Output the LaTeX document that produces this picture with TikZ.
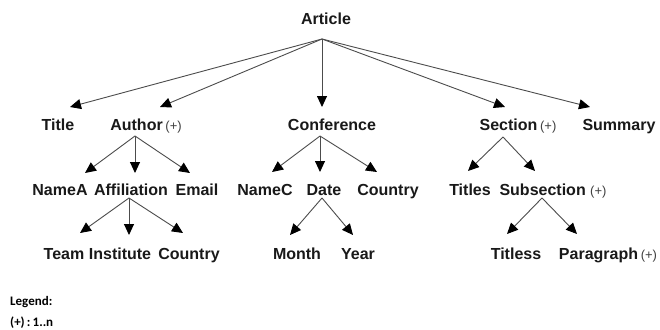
\documentclass[tikz,border=0pt]{standalone}
\usepackage{fontspec}
\setmainfont{Liberation Sans}
\newfontfamily\legfont{Carlito}
\usetikzlibrary{arrows.meta}
\newcommand{\plusmark}{{\fontsize{13}{15}\selectfont\mdseries\color{black!75}(+)}}
\tikzset{
  lbl/.style={anchor=base, inner sep=0pt, font=\fontsize{16}{19}\selectfont\bfseries, text=black!90},
  leg/.style={anchor=base west, inner sep=0pt, font=\legfont\fontsize{13}{15}\selectfont\bfseries},
  arr/.style={draw=black!70, line width=0.9pt, -{Triangle[length=11pt,width=10pt,color=black,fill=black]}},
}
\begin{document}
\begin{tikzpicture}[x=1pt,y=-1pt]
\useasboundingbox[fill=white] (0,0) rectangle (660,329);
% labels
\node[lbl] (article) at (326,25) {Article};
\node[lbl] (title) at (58,130) {Title};
\node[lbl] (author) at (146,130) {Author\,\plusmark};
\node[lbl] (conf) at (332,130) {Conference};
\node[lbl] (section) at (518,130) {Section\,\plusmark};
\node[lbl] (summary) at (619,130) {Summary};
\node[lbl] (namea) at (60,195) {NameA};
\node[lbl] (affil) at (131,195) {Affiliation};
\node[lbl] (email) at (197,195) {Email};
\node[lbl] (namec) at (265,195) {NameC};
\node[lbl] (date) at (324,195) {Date};
\node[lbl] (countryc) at (388,195) {Country};
\node[lbl] (titles) at (470,195) {Titles};
\node[lbl] (subsec) at (553,195) {Subsection\;\plusmark};
\node[lbl] (team) at (64,259) {Team};
\node[lbl] (inst) at (120,259) {Institute};
\node[lbl] (countrya) at (189,259) {Country};
\node[lbl] (month) at (297,259) {Month};
\node[lbl] (year) at (358,259) {Year};
\node[lbl] (titless) at (516,259) {Titless};
\node[lbl] (para) at (608,259) {Paragraph\,\plusmark};
\node[leg] (legend) at (10,305) {Legend:};
\node[leg] (legend2) at (10,326) {(+)\,:\,1..n};
% origins
\coordinate (oArt) at (322,39);
\coordinate (oAuth) at (135,136);
\coordinate (oConf) at (320,136);
\coordinate (oSec) at (503,137);
\coordinate (oAff) at (129,198);
\coordinate (oDate) at (322,198);
\coordinate (oSub) at (542,198);
% tips
\coordinate (tTitle) at (70,107);
\coordinate (tAuthor) at (160,107);
\coordinate (tConf) at (322,107);
\coordinate (tSection) at (505,107);
\coordinate (tSummary) at (590,107);
\coordinate (tNameA) at (85,173);
\coordinate (tAffil) at (135,173);
\coordinate (tEmail) at (190,173);
\coordinate (tNameC) at (272,172);
\coordinate (tDate) at (320,172);
\coordinate (tCountryC) at (377,172);
\coordinate (tTitles) at (468,171);
\coordinate (tSubsec) at (535,171);
\coordinate (tTeam) at (80,233);
\coordinate (tInst) at (129,235);
\coordinate (tCountryA) at (183,233);
\coordinate (tMonth) at (290,235);
\coordinate (tYear) at (353,235);
\coordinate (tTitless) at (507,234);
\coordinate (tPara) at (577,234);
% connectors
\foreach \t in {tTitle,tAuthor,tConf,tSection,tSummary} \draw[arr] (oArt) -- (\t);
\foreach \t in {tNameA,tAffil,tEmail} \draw[arr] (oAuth) -- (\t);
\foreach \t in {tNameC,tDate,tCountryC} \draw[arr] (oConf) -- (\t);
\foreach \t in {tTitles,tSubsec} \draw[arr] (oSec) -- (\t);
\foreach \t in {tTeam,tInst,tCountryA} \draw[arr] (oAff) -- (\t);
\foreach \t in {tMonth,tYear} \draw[arr] (oDate) -- (\t);
\foreach \t in {tTitless,tPara} \draw[arr] (oSub) -- (\t);
\end{tikzpicture}
\end{document}
